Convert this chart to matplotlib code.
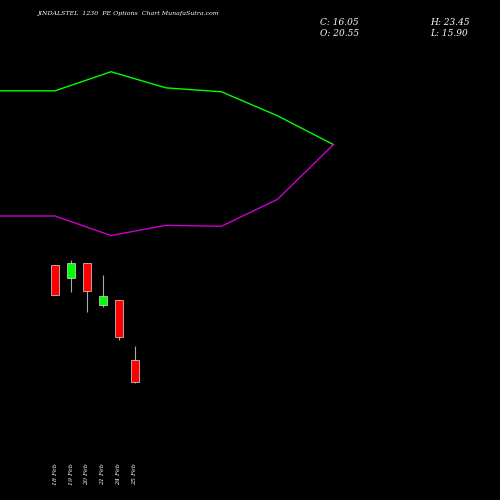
import matplotlib
matplotlib.use("Agg")
import matplotlib.pyplot as plt

dates = ["18 Feb", "19 Feb", "20 Feb", "21 Feb", "24 Feb", "25 Feb"]
opens = [39.97, 37.32, 40.39, 31.80, 32.82, 20.55]
closes = [33.84, 40.39, 34.66, 33.64, 25.25, 16.05]
highs = [39.97, 41.00, 40.39, 37.93, 32.82, 23.45]
lows = [33.84, 34.45, 30.36, 31.39, 24.64, 15.90]

band_x = [-3.44, 0.0, 3.5, 6.94, 10.4, 13.9, 17.4]
upper = [75.6, 75.6, 79.5, 76.2, 75.4, 70.5, 64.6]
lower = [50.0, 50.0, 46.0, 48.1, 47.9, 53.4, 64.6]

fig = plt.figure(figsize=(5, 5), dpi=100, facecolor="black")
ax = fig.add_axes([0, 0, 1, 1], facecolor="black")
ax.set_xlim(-3.4375, 27.81)
ax.set_ylim(-8.08, 94.17)
ax.axis("off")

ax.plot(band_x, upper, color="#00ff00", lw=1)
ax.plot(band_x, lower, color="#cc00cc", lw=1)

for i, (o, c, h, l) in enumerate(zip(opens, closes, highs, lows)):
    col = "#00ff00" if c > o else "#ff0000"
    ax.vlines(i, l, h, color="#aaaaaa", lw=0.8, zorder=1)
    ax.bar(i, abs(c - o), 0.55, bottom=min(o, c), color=col,
           edgecolor="#dddddd", linewidth=0.5, zorder=2)
    ax.text(i, -0.5, dates[i], rotation=90, ha="center", va="top",
            color="white", fontsize=4.5, family="DejaVu Serif", style="italic")

ax.text(0.075, 0.972, "JINDALSTEL  1230  PE Options  Chart MunafaSutra.com",
        transform=ax.transAxes, color="white", fontsize=4.5,
        family="DejaVu Serif", style="italic", va="center")
for x, y, s in [(0.64, 0.955, "C: 16.05"), (0.64, 0.932, "O: 20.55"),
                (0.86, 0.955, "H: 23.45"), (0.86, 0.932, "L: 15.90")]:
    ax.text(x, y, s, transform=ax.transAxes, color="white", fontsize=6.5,
            family="DejaVu Serif", style="italic", va="center")

fig.savefig("out.png", dpi=100, facecolor="black")
